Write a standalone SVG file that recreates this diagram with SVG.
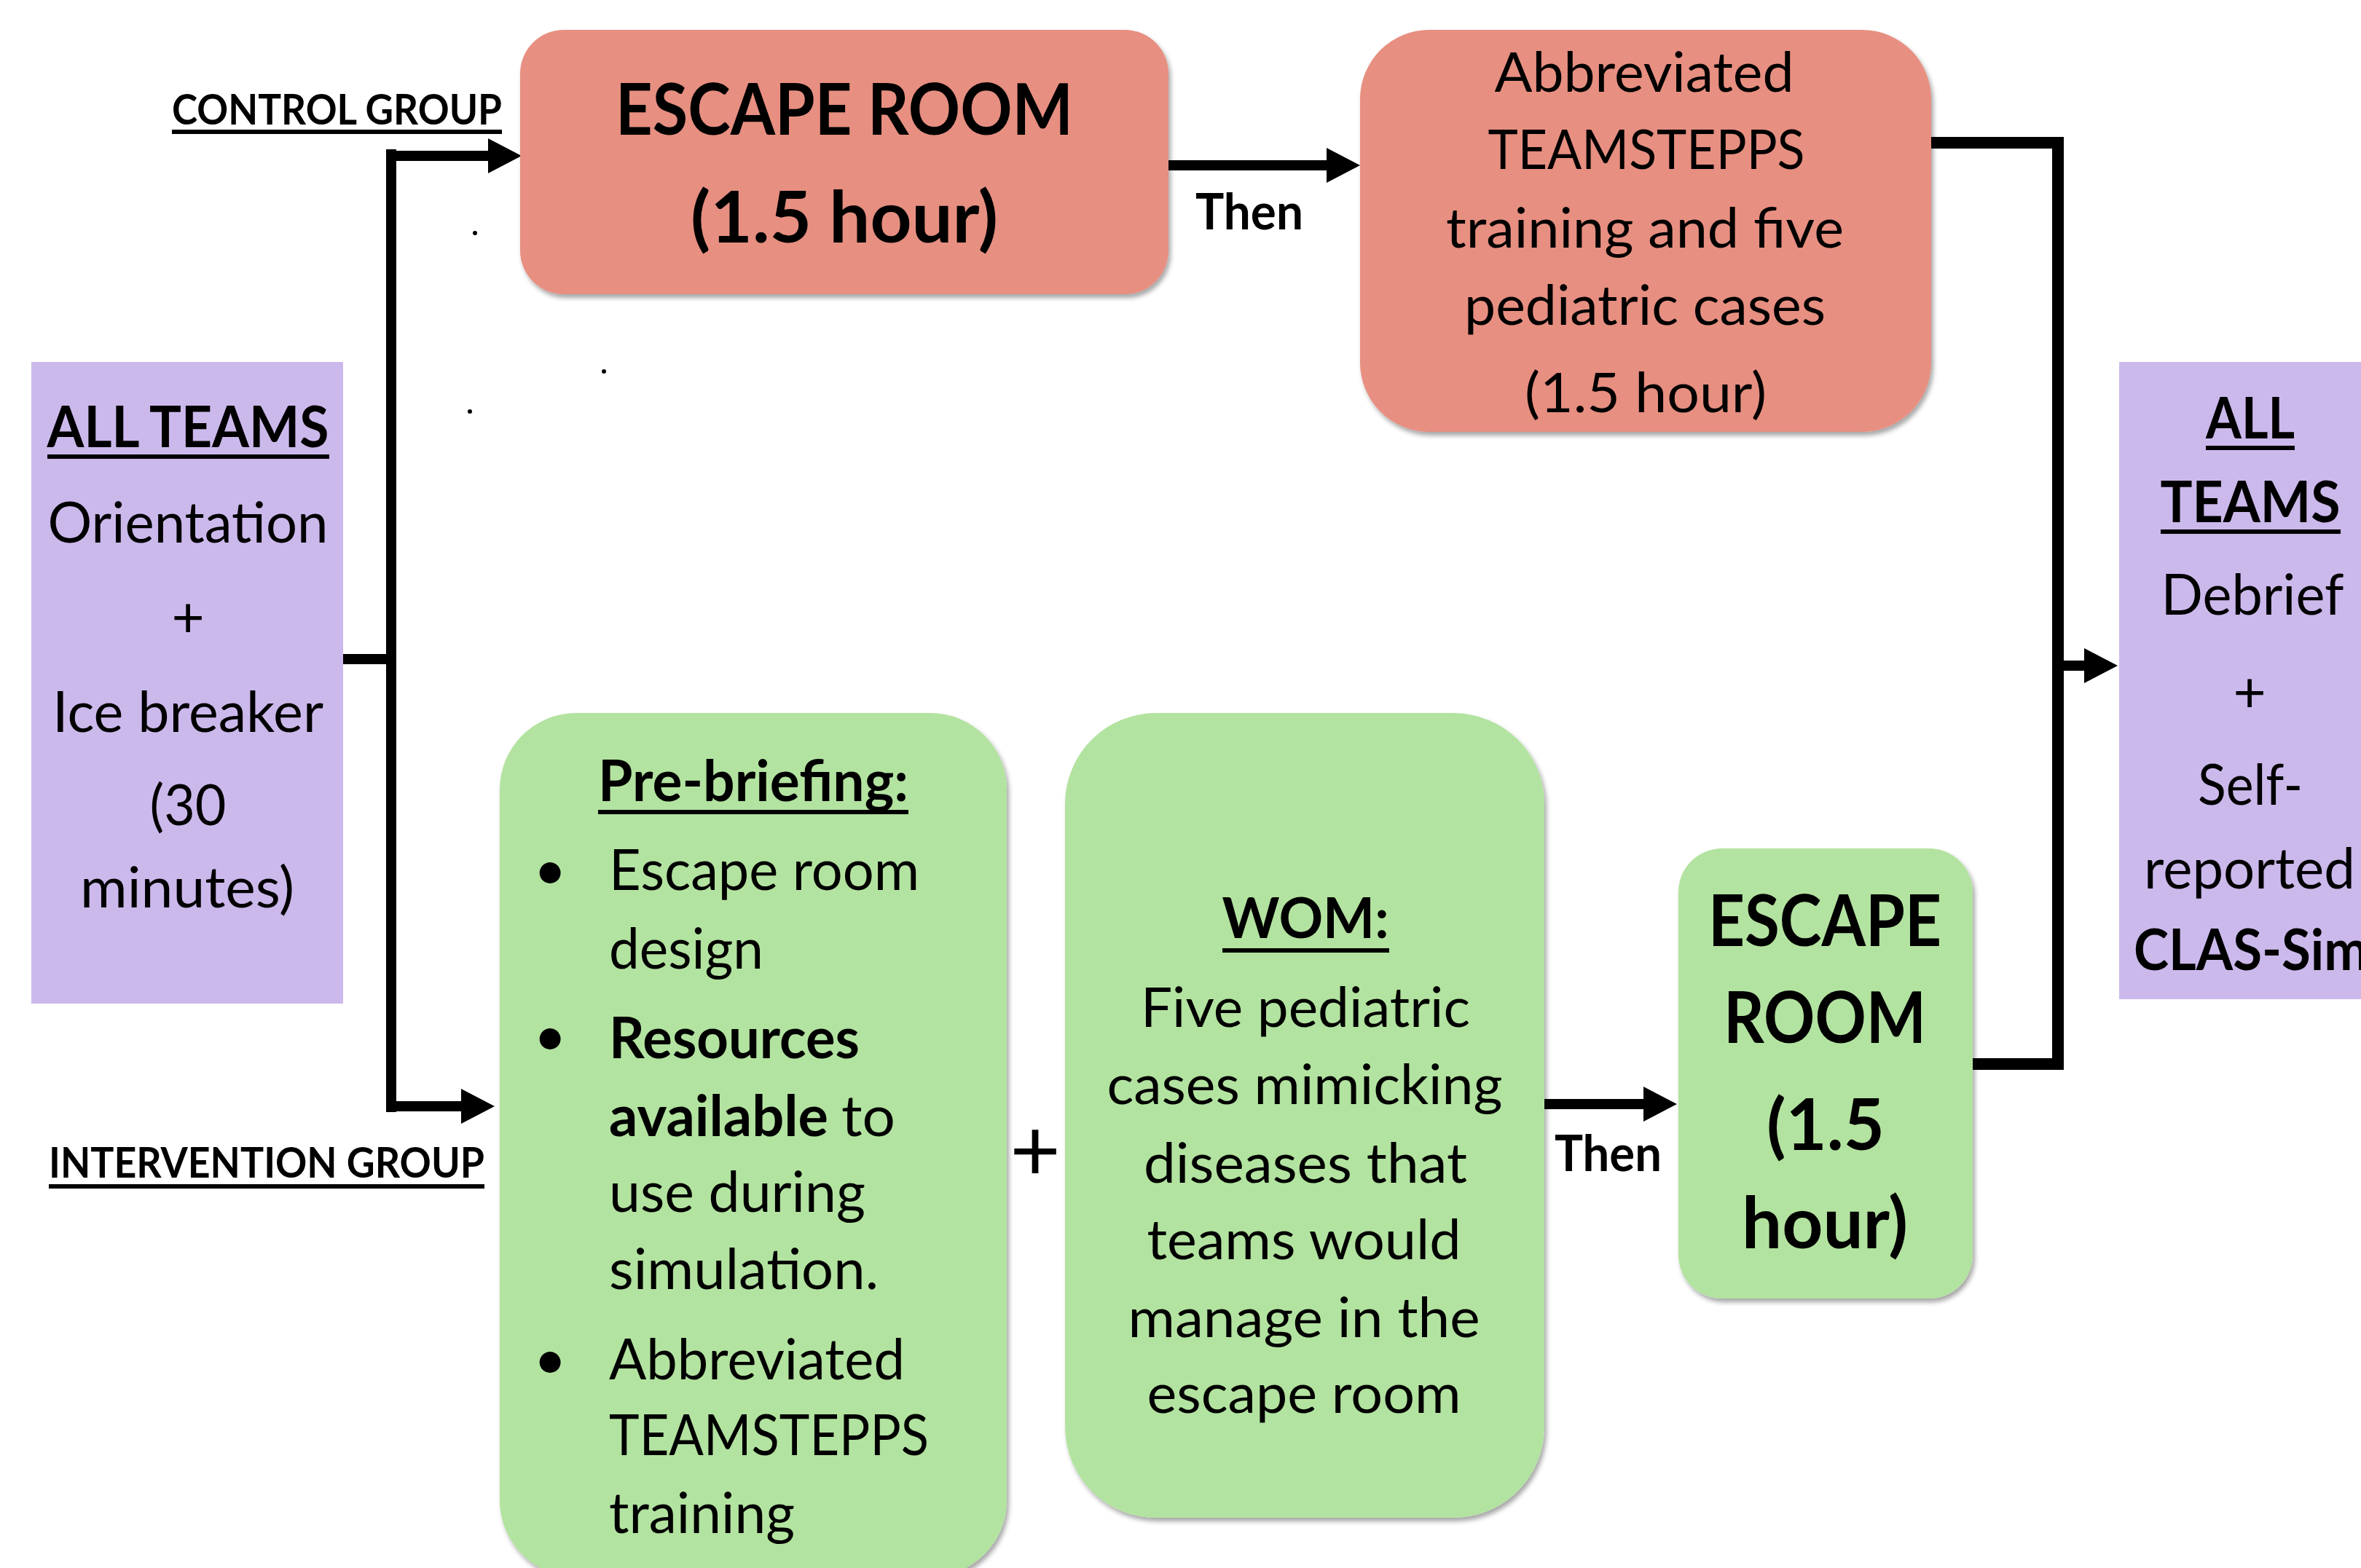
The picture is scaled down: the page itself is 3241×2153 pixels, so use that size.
<svg xmlns="http://www.w3.org/2000/svg" width="3241" height="2153" viewBox="0 0 3241 2153">
<style>
  text { font-family: Lato, "Liberation Sans", sans-serif; fill: #000; }
  .b { font-weight: 700; }
  .ctr { text-anchor: middle; }
  .lbl { font-size: 58px; font-weight: 700; }
  .h { font-size: 78px; }
  .t { font-size: 76px; }
  .big { font-size: 97px; font-weight: 700; }
  .then { font-size: 68px; font-weight: 700; }
  .ul { stroke: #000; stroke-width: 6; }
  .red { fill: #E78F81; filter: url(#sh); }
  .grn { fill: #B3E3A0; filter: url(#sh); }
  .pur { fill: #CCB9EC; }
  .con { fill: none; stroke: #000; stroke-width: 14; }
  .con2 { fill: none; stroke: #000; stroke-width: 16; }
</style>
<defs>
  <filter id="sh" x="-10%" y="-10%" width="120%" height="120%">
    <feDropShadow dx="3" dy="5" stdDeviation="3" flood-color="#000" flood-opacity="0.35"/>
  </filter>
  <marker id="ah" markerUnits="userSpaceOnUse" markerWidth="46" markerHeight="48" refX="0" refY="24" orient="auto">
    <path d="M0,0 L46,24 L0,48 Z" fill="#000"/>
  </marker>
</defs>
<rect width="3241" height="2153" fill="#fff"/>

<g id="connectors">
  <path class="con" d="M471,905 H537"/>
  <path class="con" d="M537,205 V1527"/>
  <path class="con" d="M530,214 H670" marker-end="url(#ah)"/>
  <path class="con" d="M530,1519 H633" marker-end="url(#ah)"/>
  <path class="con" d="M1604,227 H1821" marker-end="url(#ah)"/>
  <path class="con" d="M2120,1516 H2256" marker-end="url(#ah)"/>
  <path class="con2" d="M2651,196 H2825 V1461 H2708"/>
  <path class="con" d="M2825,914 H2861" marker-end="url(#ah)"/>
</g>

<g id="labels">
  <text class="lbl" x="236" y="171" textLength="453" lengthAdjust="spacingAndGlyphs">CONTROL GROUP</text>
  <line class="ul" x1="236" y1="181" x2="689" y2="181"/>
  <text class="lbl" x="67" y="1617" textLength="598" lengthAdjust="spacingAndGlyphs">INTERVENTION GROUP</text>
  <line class="ul" x1="67" y1="1629" x2="665" y2="1629"/>
  <text class="then" x="1641" y="315" textLength="148" lengthAdjust="spacingAndGlyphs">Then</text>
  <text class="then" x="2134" y="1608" textLength="147" lengthAdjust="spacingAndGlyphs">Then</text>
  <text class="ctr" x="1421" y="1621" font-size="120">+</text>
  <circle cx="652" cy="320" r="3" fill="#000"/>
  <circle cx="829" cy="510" r="3" fill="#000"/>
  <circle cx="645" cy="565" r="3" fill="#000"/>
</g>

<g id="all-teams-start">
  <rect class="pur" x="43" y="497" width="428" height="881"/>
  <text class="h b ctr" x="258" y="614" textLength="387" lengthAdjust="spacingAndGlyphs">ALL TEAMS</text>
  <line class="ul" x1="65" y1="627" x2="452" y2="627"/>
  <text class="h ctr" x="258" y="745" textLength="385" lengthAdjust="spacingAndGlyphs">Orientation</text>
  <text class="h ctr" x="258" y="875">+</text>
  <text class="h ctr" x="258" y="1005" textLength="372" lengthAdjust="spacingAndGlyphs">Ice breaker</text>
  <text class="h ctr" x="258" y="1133" textLength="105" lengthAdjust="spacingAndGlyphs">(30</text>
  <text class="h ctr" x="257" y="1246" textLength="294" lengthAdjust="spacingAndGlyphs">minutes)</text>
</g>

<g id="escape-room-control">
  <rect class="red" x="714" y="41" width="890" height="363" rx="60"/>
  <text class="big ctr" x="1159" y="185" textLength="628" lengthAdjust="spacingAndGlyphs">ESCAPE ROOM</text>
  <text class="big ctr" x="1159" y="333" textLength="422" lengthAdjust="spacingAndGlyphs">(1.5 hour)</text>
</g>

<g id="teamstepps-control">
  <rect class="red" x="1867" y="41" width="784" height="552" rx="95"/>
  <text class="t ctr" x="2257" y="126" textLength="411" lengthAdjust="spacingAndGlyphs">Abbreviated</text>
  <text class="t ctr" x="2260" y="232" textLength="435" lengthAdjust="spacingAndGlyphs">TEAMSTEPPS</text>
  <text class="t ctr" x="2258" y="340" textLength="546" lengthAdjust="spacingAndGlyphs">training and five</text>
  <text class="t ctr" x="2258" y="446" textLength="496" lengthAdjust="spacingAndGlyphs">pediatric cases</text>
  <text class="t ctr" x="2259" y="566" textLength="332" lengthAdjust="spacingAndGlyphs">(1.5 hour)</text>
</g>

<g id="pre-briefing">
  <rect class="grn" x="686" y="979" width="696" height="1186" rx="105"/>
  <text class="h b ctr" x="1034" y="1100" textLength="426" lengthAdjust="spacingAndGlyphs">Pre-briefing:</text>
  <line class="ul" x1="821" y1="1115" x2="1247" y2="1115"/>
  <text class="h ctr" x="755" y="1222">•</text>
  <text class="h" x="836" y="1222" textLength="426" lengthAdjust="spacingAndGlyphs">Escape room</text>
  <text class="h" x="836" y="1330" textLength="212" lengthAdjust="spacingAndGlyphs">design</text>
  <text class="h ctr" x="755" y="1450">•</text>
  <text class="h b" x="836" y="1453" textLength="344" lengthAdjust="spacingAndGlyphs">Resources</text>
  <text class="h b" x="836" y="1560" textLength="301" lengthAdjust="spacingAndGlyphs">available</text>
  <text class="h" x="1155" y="1560" textLength="74" lengthAdjust="spacingAndGlyphs">to</text>
  <text class="h" x="836" y="1664" textLength="352" lengthAdjust="spacingAndGlyphs">use during</text>
  <text class="h" x="836" y="1770" textLength="370" lengthAdjust="spacingAndGlyphs">simulation.</text>
  <text class="h ctr" x="755" y="1894">•</text>
  <text class="h" x="836" y="1894" textLength="406" lengthAdjust="spacingAndGlyphs">Abbreviated</text>
  <text class="h" x="836" y="1998" textLength="439" lengthAdjust="spacingAndGlyphs">TEAMSTEPPS</text>
  <text class="h" x="836" y="2105" textLength="255" lengthAdjust="spacingAndGlyphs">training</text>
</g>

<g id="wom">
  <rect class="grn" x="1462" y="979" width="658" height="1105" rx="125"/>
  <text class="t b ctr" x="1792" y="1288" textLength="229" lengthAdjust="spacingAndGlyphs">WOM:</text>
  <line class="ul" x1="1678" y1="1305" x2="1907" y2="1305"/>
  <text class="t ctr" x="1792" y="1410" textLength="452" lengthAdjust="spacingAndGlyphs">Five pediatric</text>
  <text class="t ctr" x="1791" y="1516" textLength="543" lengthAdjust="spacingAndGlyphs">cases mimicking</text>
  <text class="t ctr" x="1792" y="1624" textLength="444" lengthAdjust="spacingAndGlyphs">diseases that</text>
  <text class="t ctr" x="1790" y="1729" textLength="431" lengthAdjust="spacingAndGlyphs">teams would</text>
  <text class="t ctr" x="1790" y="1836" textLength="483" lengthAdjust="spacingAndGlyphs">manage in the</text>
  <text class="t ctr" x="1790" y="1940" textLength="431" lengthAdjust="spacingAndGlyphs">escape room</text>
</g>

<g id="escape-room-intervention">
  <rect class="grn" x="2304" y="1165" width="404" height="618" rx="60"/>
  <text class="big ctr" x="2505" y="1299" textLength="320" lengthAdjust="spacingAndGlyphs">ESCAPE</text>
  <text class="big ctr" x="2505" y="1432" textLength="278" lengthAdjust="spacingAndGlyphs">ROOM</text>
  <text class="big ctr" x="2506" y="1579" textLength="162" lengthAdjust="spacingAndGlyphs">(1.5</text>
  <text class="big ctr" x="2505" y="1714" textLength="228" lengthAdjust="spacingAndGlyphs">hour)</text>
</g>

<g id="all-teams-end">
  <rect class="pur" x="2909" y="497" width="340" height="875"/>
  <text class="h b ctr" x="3089" y="602" textLength="122" lengthAdjust="spacingAndGlyphs">ALL</text>
  <line class="ul" x1="3028" y1="615" x2="3150" y2="615"/>
  <text class="h b ctr" x="3089" y="717" textLength="247" lengthAdjust="spacingAndGlyphs">TEAMS</text>
  <line class="ul" x1="2966" y1="730" x2="3213" y2="730"/>
  <text class="h ctr" x="3092" y="844" textLength="251" lengthAdjust="spacingAndGlyphs">Debrief</text>
  <text class="h ctr" x="3088" y="978">+</text>
  <text class="h ctr" x="3089" y="1105" textLength="144" lengthAdjust="spacingAndGlyphs">Self-</text>
  <text class="h ctr" x="3088" y="1220" textLength="290" lengthAdjust="spacingAndGlyphs">reported</text>
  <text class="h b ctr" x="3090" y="1332" textLength="322" lengthAdjust="spacingAndGlyphs">CLAS-Sim</text>
</g>
</svg>
